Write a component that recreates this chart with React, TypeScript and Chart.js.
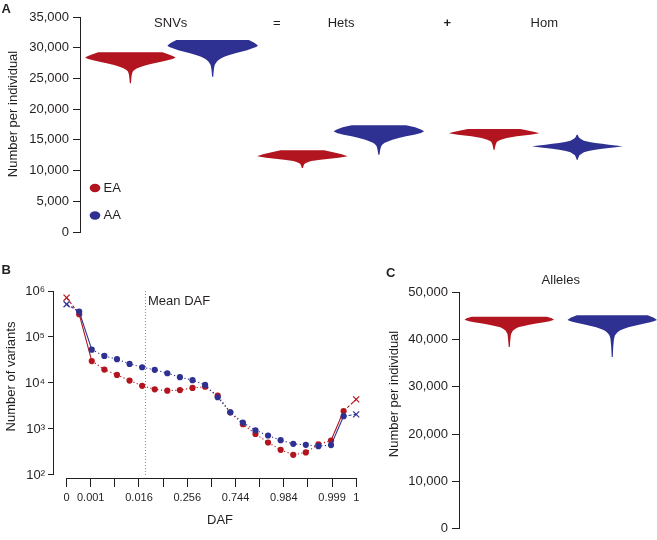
import React, { useEffect, useRef } from "react";
import { Chart, registerables } from "chart.js";
Chart.register(...registerables);

const RED = "#b2151f";
const BLUE = "#2e3192";
const INK = "#231f20";
const FONT_FAMILY = "'Liberation Sans', Arial, Helvetica, sans-serif";

// ---------------- Panel A: SNVs = Hets + Hom ----------------
const groupTitles = ["SNVs", "=", "Hets", "+", "Hom"];
const groupTitleSlots = [1.09, 2.38, 3.16, 4.45, 5.63];
const populations = ["EA", "AA"];
const populationColors = [RED, BLUE];
const yTicksA = [0, 5000, 10000, 15000, 20000, 25000, 30000, 35000];
const violinSlotsA = [0.6, 1.6, 2.69, 3.62, 5.02, 6.03];

const snvEaLevels = [29260, 28900, 28600, 28380, 28160, 27900, 27700, 27450, 27190, 26900, 26650, 26350, 26100, 25560, 24900, 24200];
const snvEaWidths = [0.71, 0.85, 0.95, 1.0, 0.93, 0.8, 0.68, 0.5, 0.36, 0.24, 0.15, 0.08, 0.05, 0.03, 0.02, 0.012];
const snvAaLevels = [31258, 30900, 30600, 30330, 30100, 29900, 29600, 29350, 29080, 28800, 28550, 28280, 28000, 27720, 27190, 26650, 25950, 25280];
const snvAaWidths = [0.8, 0.9, 0.96, 1.0, 0.96, 0.88, 0.76, 0.63, 0.5, 0.37, 0.27, 0.19, 0.13, 0.09, 0.045, 0.03, 0.02, 0.012];
const hetEaLevels = [13300, 13000, 12650, 12330, 12100, 11900, 11770, 11550, 11400, 11200, 11070, 10750, 10420];
const hetEaWidths = [0.48, 0.68, 0.87, 1.0, 0.8, 0.55, 0.4, 0.2, 0.13, 0.07, 0.045, 0.025, 0.012];
const hetAaLevels = [17370, 17050, 16700, 16394, 16117, 15850, 15580, 15300, 15026, 14750, 14489, 14200, 13952, 13398, 12584];
const hetAaWidths = [0.6, 0.8, 0.93, 1.0, 0.93, 0.78, 0.6, 0.44, 0.3, 0.2, 0.12, 0.075, 0.05, 0.03, 0.012];
const homEaLevels = [16768, 16500, 16250, 16068, 15850, 15580, 15300, 15026, 14800, 14652, 14212, 13800, 13398];
const homEaWidths = [0.58, 0.77, 0.92, 1.0, 0.8, 0.5, 0.28, 0.15, 0.09, 0.06, 0.035, 0.022, 0.012];
const homAaLevels = [15840, 15500, 15303, 15050, 14863, 14650, 14489, 14350, 14212, 14080, 13952, 13810, 13675, 13540, 13398, 13200, 12975, 12700, 12486, 12100, 11770];
const homAaWidths = [0.012, 0.03, 0.05, 0.1, 0.15, 0.27, 0.4, 0.55, 0.7, 0.85, 1.0, 0.85, 0.7, 0.55, 0.4, 0.25, 0.15, 0.09, 0.05, 0.025, 0.012];

// ---------------- Panel B: DAF spectrum ----------------
const dafBins = Array.from({ length: 24 }, (_, i) => i);
const eaCounts = [716000, 313000, 30000, 19600, 15000, 11300, 8700, 7300, 6800, 7000, 7800, 8300, 5300, 2300, 1270, 782, 509, 352, 275, 309, 461, 562, 2460, 4400];
const aaCounts = [515000, 357000, 53000, 38700, 33000, 26000, 22000, 19300, 16300, 13400, 11500, 9100, 4900, 2300, 1380, 940, 721, 571, 475, 452, 424, 446, 1900, 2080];
const dafTickLabels = ["0", "0.001", "", "0.016", "", "0.256", "", "0.744", "", "0.984", "", "0.999", "1"];
const yTicksB = [100, 1000, 10000, 100000, 1000000];
const yTickLabelsB = ["10²", "10³", "10⁴", "10⁵", "10⁶"];
const MEAN_DAF_POS = 6.27;

// ---------------- Panel C: Alleles ----------------
const yTicksC = [0, 10000, 20000, 30000, 40000, 50000];
const violinSlotsC = [0.55, 1.7];
const alleleEaLevels = [44880, 44560, 44250, 43950, 43705, 43450, 43200, 42900, 42655, 42300, 41940, 41250, 40560, 39500, 38460];
const alleleEaWidths = [0.84, 0.95, 1.0, 0.9, 0.78, 0.6, 0.45, 0.3, 0.2, 0.13, 0.08, 0.04, 0.03, 0.02, 0.012];
const alleleAaLevels = [45230, 44700, 44180, 43950, 43700, 43350, 42990, 42650, 42300, 41950, 41600, 41250, 40890, 40200, 38800, 37600, 36360];
const alleleAaWidths = [0.79, 0.93, 1.0, 0.93, 0.85, 0.67, 0.5, 0.36, 0.25, 0.17, 0.12, 0.085, 0.06, 0.04, 0.025, 0.018, 0.012];

type Violin = { pos: number; levels: number[]; widths: number[]; color: string };

const fmt = (v: number) => Number(v).toLocaleString("en-US");

function drawText(
  ctx: CanvasRenderingContext2D,
  text: string,
  x: number,
  y: number,
  size = 13,
  o: { bold?: boolean; align?: CanvasTextAlign; rotate?: number; color?: string } = {}
) {
  ctx.save();
  ctx.translate(x, y);
  if (o.rotate) ctx.rotate(o.rotate);
  ctx.font = `${o.bold ? "bold " : ""}${size}px ${FONT_FAMILY}`;
  ctx.fillStyle = o.color || INK;
  ctx.textAlign = o.align || "center";
  ctx.textBaseline = "middle";
  ctx.fillText(text, 0, 0);
  ctx.restore();
}

function violinPlugin(items: Violin[], halfWidth: number) {
  return {
    id: "violins",
    afterDatasetsDraw(chart: any) {
      const ctx: CanvasRenderingContext2D = chart.ctx;
      const xs = chart.scales.x;
      const ys = chart.scales.y;
      items.forEach((v) => {
        const cx = xs.getPixelForValue(v.pos);
        const hw = xs.getPixelForValue(v.pos + halfWidth) - cx;
        ctx.save();
        ctx.fillStyle = v.color;
        ctx.beginPath();
        v.levels.forEach((lv, i) => {
          const px = cx + v.widths[i] * hw;
          const py = ys.getPixelForValue(lv);
          if (i === 0) ctx.moveTo(px, py);
          else ctx.lineTo(px, py);
        });
        for (let i = v.levels.length - 1; i >= 0; i--) {
          ctx.lineTo(cx - v.widths[i] * hw, ys.getPixelForValue(v.levels[i]));
        }
        ctx.closePath();
        ctx.fill();
        ctx.restore();
      });
    },
  };
}

const alignPx = (p: number) => Math.round(p - 0.5) + 0.5;

function axisLinePlugin(ids: string[]) {
  return {
    id: "axisLines",
    afterDraw(chart: any) {
      const ctx: CanvasRenderingContext2D = chart.ctx;
      ctx.save();
      ctx.strokeStyle = INK;
      ctx.lineWidth = 1;
      ids.forEach((id) => {
        const s = chart.scales[id];
        const t = s.ticks;
        const p0 = s.getPixelForValue(t[0].value);
        const p1 = s.getPixelForValue(t[t.length - 1].value);
        ctx.beginPath();
        if (s.isHorizontal()) {
          const y = Math.round(s.top) + 0.5;
          ctx.moveTo(alignPx(p0) - 0.5, y);
          ctx.lineTo(alignPx(p1) + 0.5, y);
        } else {
          const x = Math.round(s.right) - 0.5;
          ctx.moveTo(x, alignPx(p0) + 0.5);
          ctx.lineTo(x, alignPx(p1) - 0.5);
        }
        ctx.stroke();
      });
      ctx.restore();
    },
  };
}

const tickFont = { family: FONT_FAMILY, size: 13 };
const tickGrid = (len: number) => ({ display: true, drawOnChartArea: false, drawTicks: true, tickLength: len, color: INK, lineWidth: 1 });

export default function App() {
  const refA = useRef<HTMLCanvasElement>(null);
  const refB = useRef<HTMLCanvasElement>(null);
  const refC = useRef<HTMLCanvasElement>(null);

  useEffect(() => {
    // ---------- Chart A ----------
    const levelsA = [snvEaLevels, snvAaLevels, hetEaLevels, hetAaLevels, homEaLevels, homAaLevels];
    const widthsA = [snvEaWidths, snvAaWidths, hetEaWidths, hetAaWidths, homEaWidths, homAaWidths];
    const violinsA: Violin[] = violinSlotsA.map((pos, i) => ({
      pos,
      levels: levelsA[i],
      widths: widthsA[i],
      color: populationColors[i % 2],
    }));

    const chartA = new Chart(refA.current!, {
      type: "scatter",
      data: { datasets: [] },
      options: {
        responsive: false,
        maintainAspectRatio: false,
        animation: false,
        layout: { padding: { top: 17, bottom: 18, left: 0, right: 0 } },
        plugins: { legend: { display: false }, tooltip: { enabled: false } },
        scales: {
          x: { type: "linear", display: false, min: 0, max: 7 },
          y: {
            type: "linear",
            min: 0,
            max: 35000,
            afterBuildTicks: (s: any) => {
              s.ticks = yTicksA.map((value) => ({ value }));
            },
            afterFit: (s: any) => {
              s.width = 81;
            },
            ticks: { font: tickFont, color: INK, padding: 4, callback: (v: any) => fmt(v) },
            grid: tickGrid(8),
            border: { display: false },
          },
        },
      } as any,
      plugins: [
        axisLinePlugin(["y"]),
        violinPlugin(violinsA, 0.55),
        {
          id: "panelAText",
          afterDraw(chart: any) {
            const ctx = chart.ctx;
            const xs = chart.scales.x;
            const ys = chart.scales.y;
            groupTitles.forEach((t, i) => {
              drawText(ctx, t, xs.getPixelForValue(groupTitleSlots[i]), ys.getPixelForValue(34000), 13, { bold: t === "+" });
            });
            populations.forEach((p, i) => {
              const cy = 188 + i * 27.5;
              ctx.save();
              ctx.fillStyle = populationColors[i];
              ctx.beginPath();
              ctx.ellipse(95, cy, 5.3, 4.2, 0, 0, Math.PI * 2);
              ctx.fill();
              ctx.restore();
              drawText(ctx, p, 103.5, cy, 13, { align: "left" });
            });
            drawText(ctx, "Number per individual", 13.3, 114, 13, { rotate: -Math.PI / 2 });
            drawText(ctx, "A", 1.5, 9, 13, { bold: true, align: "left" });
          },
        },
      ],
    });

    // ---------- Chart B ----------
    const lastIdx = dafBins.length - 1;
    const isEnd = (i: number) => i === 0 || i === lastIdx;
    const segDash = (c: any) => {
      const i = c.p0DataIndex;
      if (i === 1 || i === lastIdx - 2) return [];
      if (i === 0 || i === lastIdx - 1) return [3, 2];
      return undefined;
    };
    const makeSeries = (label: string, counts: number[], color: string) => ({
      label,
      data: dafBins.map((b, i) => ({ x: b, y: counts[i] })),
      borderColor: color,
      backgroundColor: color,
      borderWidth: 1.1,
      borderDash: [1.2, 2.4],
      pointStyle: (c: any) => (isEnd(c.dataIndex) ? "crossRot" : "circle"),
      pointRadius: (c: any) => (isEnd(c.dataIndex) ? 4.3 : 3.1),
      pointBorderWidth: (c: any) => (isEnd(c.dataIndex) ? 1.2 : 0),
      pointBorderColor: color,
      pointBackgroundColor: color,
      segment: { borderDash: segDash },
      tension: 0,
      clip: false,
    });

    const chartB = new Chart(refB.current!, {
      type: "line",
      data: {
        datasets: [makeSeries("AA", aaCounts, BLUE), makeSeries("EA", eaCounts, RED)],
      },
      options: {
        responsive: false,
        maintainAspectRatio: false,
        animation: false,
        layout: { padding: { top: 41, bottom: 0, left: 0, right: 0 } },
        plugins: { legend: { display: false }, tooltip: { enabled: false } },
        scales: {
          x: {
            type: "linear",
            min: -1,
            max: 24.93,
            afterBuildTicks: (s: any) => {
              s.ticks = dafTickLabels.map((_, i) => ({ value: (i * lastIdx) / (dafTickLabels.length - 1) }));
            },
            afterFit: (s: any) => {
              s.height = 62;
            },
            ticks: {
              font: { family: FONT_FAMILY, size: 11 },
              color: INK,
              padding: 4,
              autoSkip: false,
              maxRotation: 0,
              callback: (_v: any, i: number) => dafTickLabels[i],
            },
            grid: tickGrid(9),
            border: { display: false },
          },
          y: {
            type: "logarithmic",
            min: 86,
            max: 1000000,
            afterBuildTicks: (s: any) => {
              s.ticks = yTicksB.map((value) => ({ value }));
            },
            afterFit: (s: any) => {
              s.width = 54;
            },
            ticks: { font: tickFont, color: INK, padding: 3, callback: (_v: any, i: number) => yTickLabelsB[i] },
            grid: tickGrid(6),
            border: { display: false },
          },
        },
      } as any,
      plugins: [
        axisLinePlugin(["x", "y"]),
        {
          id: "meanDaf",
          beforeDatasetsDraw(chart: any) {
            const ctx = chart.ctx;
            const xs = chart.scales.x;
            const ys = chart.scales.y;
            const x = alignPx(xs.getPixelForValue(MEAN_DAF_POS));
            ctx.save();
            ctx.strokeStyle = "#8a8a8a";
            ctx.lineWidth = 1;
            ctx.setLineDash([1, 2]);
            ctx.beginPath();
            ctx.moveTo(x, ys.getPixelForValue(1000000));
            ctx.lineTo(x, ys.getPixelForValue(100) + 1);
            ctx.stroke();
            ctx.restore();
            drawText(ctx, "Mean DAF", x + 2.5, ys.getPixelForValue(590000), 13, { align: "left" });
          },
          afterDraw(chart: any) {
            const ctx = chart.ctx;
            drawText(ctx, "Number of variants", 11.7, 126.5, 13, { rotate: -Math.PI / 2 });
            drawText(ctx, "DAF", 220, 270, 13);
            drawText(ctx, "B", 1.5, 20.5, 13, { bold: true, align: "left" });
          },
        },
      ],
    });

    // ---------- Chart C ----------
    const violinsC: Violin[] = [
      { pos: violinSlotsC[0], levels: alleleEaLevels, widths: alleleEaWidths, color: RED },
      { pos: violinSlotsC[1], levels: alleleAaLevels, widths: alleleAaWidths, color: BLUE },
    ];
    const chartC = new Chart(refC.current!, {
      type: "scatter",
      data: { datasets: [] },
      options: {
        responsive: false,
        maintainAspectRatio: false,
        animation: false,
        layout: { padding: { top: 42.7, bottom: 8.3, left: 0, right: 0 } },
        plugins: { legend: { display: false }, tooltip: { enabled: false } },
        scales: {
          x: { type: "linear", display: false, min: 0, max: 2.2 },
          y: {
            type: "linear",
            min: 0,
            max: 50000,
            afterBuildTicks: (s: any) => {
              s.ticks = yTicksC.map((value) => ({ value }));
            },
            afterFit: (s: any) => {
              s.width = 85;
            },
            ticks: { font: tickFont, color: INK, padding: 4, callback: (v: any) => fmt(v) },
            grid: tickGrid(8),
            border: { display: false },
          },
        },
      } as any,
      plugins: [
        axisLinePlugin(["y"]),
        violinPlugin(violinsC, 0.5),
        {
          id: "panelCText",
          afterDraw(chart: any) {
            const ctx = chart.ctx;
            const xs = chart.scales.x;
            const mid = (violinSlotsC[0] + violinSlotsC[1]) / 2;
            drawText(ctx, "Alleles", xs.getPixelForValue(mid), 30, 13);
            drawText(ctx, "Number per individual", 19, 144, 13, { rotate: -Math.PI / 2 });
            drawText(ctx, "C", 11, 23.5, 13, { bold: true, align: "left" });
          },
        },
      ],
    });

    return () => {
      chartA.destroy();
      chartB.destroy();
      chartC.destroy();
    };
  }, []);

  return (
    <div style={{ position: "absolute", left: 0, top: 0, width: 657, height: 540, background: "#fff" }}>
      <canvas ref={refA} width={657} height={250} style={{ position: "absolute", left: 0, top: 0 }} />
      <canvas ref={refB} width={386} height={290} style={{ position: "absolute", left: 0, top: 250 }} />
      <canvas ref={refC} width={282} height={290} style={{ position: "absolute", left: 375, top: 250 }} />
    </div>
  );
}
